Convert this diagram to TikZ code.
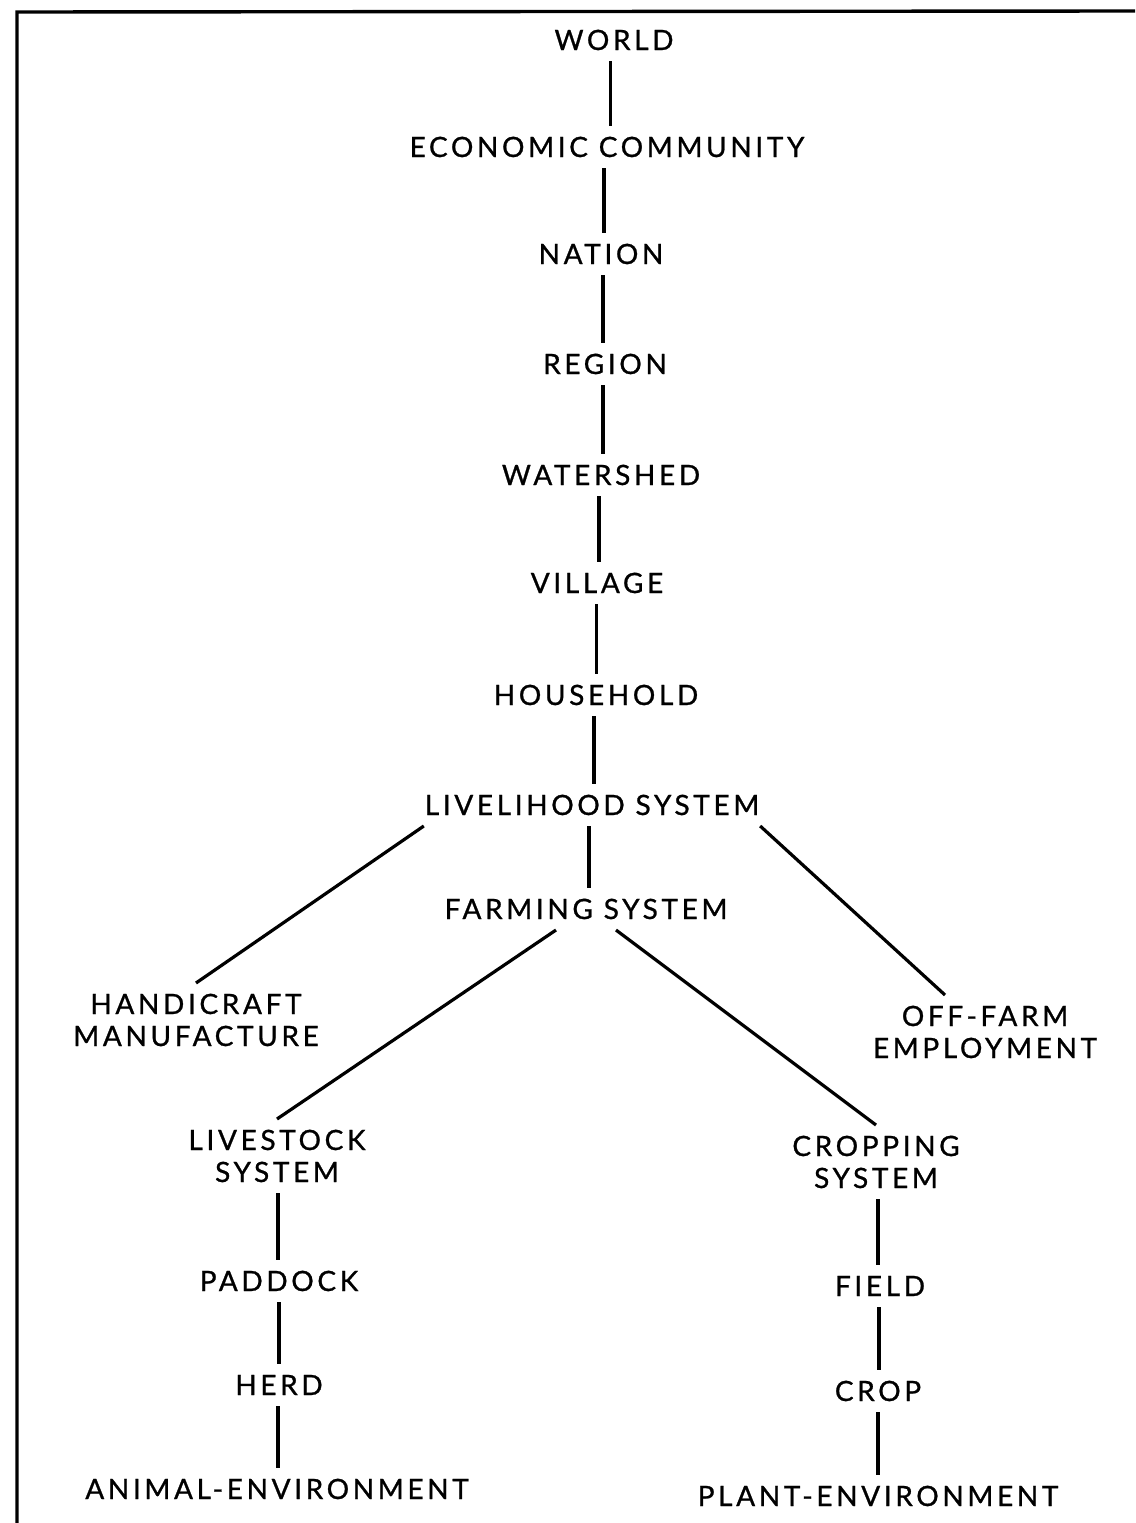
\documentclass[tikz,border=0pt]{standalone}
\usepackage{fontspec}
\usetikzlibrary{calc}
\setmainfont{Lato}[LetterSpace=13, FakeBold=0.9]
% vertical connector placed midway between two stacked labels
\newcommand\vlink[2]{%
  \path ($(#1.south)!0.5!(#2.north)$) coordinate (mid-#1);
  \draw[link] (mid-#1 |- #1.south) -- (mid-#1 |- #2.north);}
\begin{document}
\begin{tikzpicture}[x=1pt,y=-1pt,
  lvl/.style={font=\fontsize{28}{32}\selectfont, text height=20pt, text depth=0pt,
    inner ysep=11pt, inner xsep=1pt, outer sep=0pt},
  lvltwo/.style={lvl, align=center, text height=52pt},
  link/.style={line width=3.2pt}]
\useasboundingbox (0,0) rectangle (1135,1523);
% frame
\draw[line width=3.4pt] (17,1523) -- (17,12) -- (1135,11);

% main chain
\node[lvl] (world) at (614,40) {WORLD};
\node[lvl] (econ) at (607,147) {ECONOMIC COMMUNITY};
\node[lvl] (nation) at (601,254) {NATION};
\node[lvl] (region) at (605,364) {REGION};
\node[lvl] (water) at (601,475) {WATERSHED};
\node[lvl] (village) at (597,583) {VILLAGE};
\node[lvl] (house) at (596,695) {HOUSEHOLD};
\node[lvl] (liv) at (592,805) {LIVELIHOOD SYSTEM};
\node[lvl] (farm) at (586,909) {FARMING SYSTEM};

% side branches
\node[lvltwo] (hand) at (196,1020) {HANDICRAFT\\MANUFACTURE};
\node[lvltwo] (off) at (985,1032) {OFF-FARM\\EMPLOYMENT};

% livestock branch
\node[lvltwo] (stock) at (277,1156) {LIVESTOCK\\SYSTEM};
\node[lvl] (paddock) at (279,1281) {PADDOCK};
\node[lvl] (herd) at (279,1385) {HERD};
\node[lvl] (animal) at (277,1489) {ANIMAL-ENVIRONMENT};

% cropping branch
\node[lvltwo] (cropsys) at (876,1162) {CROPPING\\SYSTEM};
\node[lvl] (field) at (880,1286) {FIELD};
\node[lvl] (crop) at (878,1391) {CROP};
\node[lvl] (plant) at (878,1496) {PLANT-ENVIRONMENT};

% connectors
\vlink{world}{econ}
\vlink{econ}{nation}
\vlink{nation}{region}
\vlink{region}{water}
\vlink{water}{village}
\vlink{village}{house}
\vlink{house}{liv}
\vlink{liv}{farm}
\draw[link] (liv.south west) -- (hand.north);
\draw[link] (liv.south east) -- ([xshift=-40pt]off.north);
\draw[link] ([xshift=-30pt]farm.south) -- (stock.north);
\draw[link] ([xshift=30pt]farm.south) -- (cropsys.north);
\vlink{stock}{paddock}
\vlink{paddock}{herd}
\vlink{herd}{animal}
\vlink{cropsys}{field}
\vlink{field}{crop}
\vlink{crop}{plant}
\end{tikzpicture}
\end{document}
